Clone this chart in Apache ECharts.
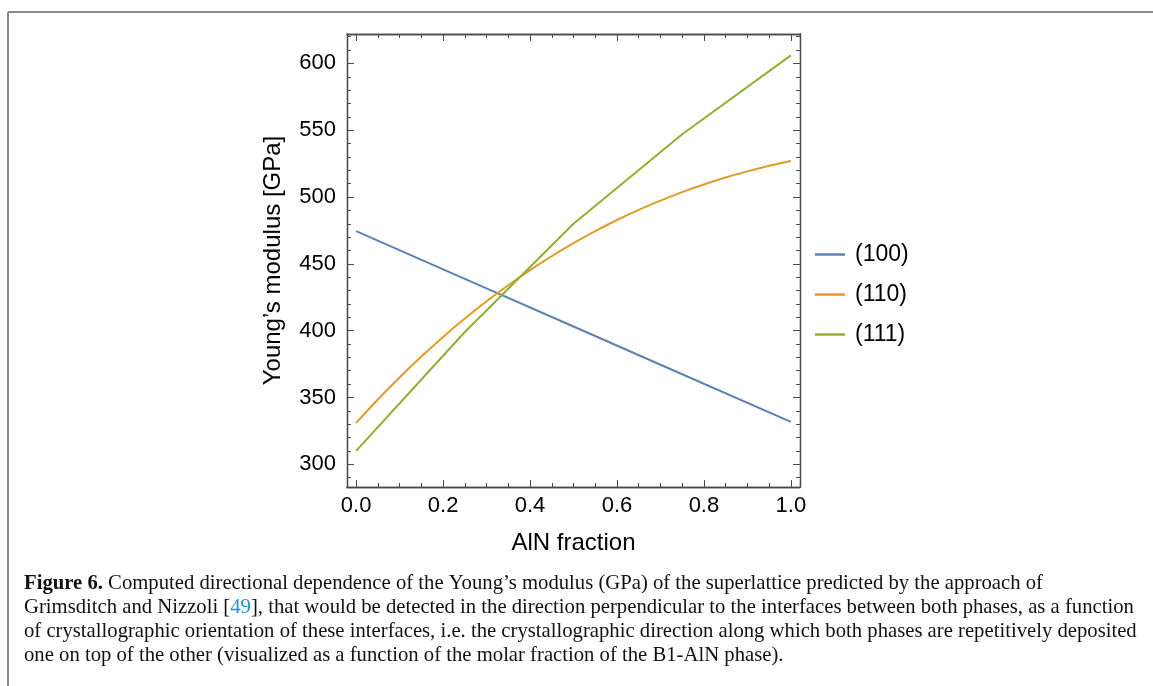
<!DOCTYPE html>
<html>
<head>
<meta charset="utf-8">
<script src="https://cdn.jsdelivr.net/npm/echarts@6/dist/echarts.min.js"></script>
<style>
html,body{margin:0;padding:0;background:#fff;}
#c{width:1153px;height:686px;}
</style>
</head>
<body>
<div id="c"></div>
<script>
// ---- data ----
const seriesNames = ['(100)', '(110)', '(111)'];
const xFrac100 = [0, 0.25, 0.5, 0.75, 1];
const y100 = [474.5, 438.8, 403.1, 367.4, 331.7];
const xFrac110 = [0, 0.05, 0.1, 0.15, 0.2, 0.25, 0.3, 0.35, 0.4, 0.45, 0.5, 0.55, 0.6, 0.65, 0.7, 0.75, 0.8, 0.85, 0.9, 0.95, 1];
const y110 = [331, 348.5, 365, 380.6, 395.3, 409.1, 422.0, 434.0, 445.3, 455.8, 465.5, 474.5, 482.8, 490.4, 497.3, 503.7, 509.4, 514.6, 519.2, 523.4, 527];
const xFrac111 = [0, 0.25, 0.5, 0.75, 1];
const y111 = [310, 399, 480, 547, 606];
const xMajorTicks = [0, 0.2, 0.4, 0.6, 0.8, 1.0];
const xMinorTicks = [0.05, 0.1, 0.15, 0.25, 0.3, 0.35, 0.45, 0.5, 0.55, 0.65, 0.7, 0.75, 0.85, 0.9, 0.95];
const yMajorTicks = [300, 350, 400, 450, 500, 550, 600];
const yMinorTicks = [290, 310, 320, 330, 340, 360, 370, 380, 390, 410, 420, 430, 440, 460, 470, 480, 490, 510, 520, 530, 540, 560, 570, 580, 590, 610, 620];
const colors = ['#5e81b5', '#e19c24', '#8fb032'];
const xTitle = 'AlN fraction';
const yTitle = 'Young\u2019s modulus [GPa]';
const captionLines = [
  '{b|Figure 6.} Computed directional dependence of the Young\u2019s modulus (GPa) of the superlattice predicted by the approach of',
  'Grimsditch and Nizzoli [{c|49}], that would be detected in the direction perpendicular to the interfaces between both phases, as a function',
  'of crystallographic orientation of these interfaces, i.e. the crystallographic direction along which both phases are repetitively deposited',
  'one on top of the other (visualized as a function of the molar fraction of the B1-AlN phase).'
];

const X_MIN = -0.021, X_MAX = 1.021, Y_MIN = 283, Y_MAX = 622;
const frameColor = '#4a4a4a';
const FONT = 'Liberation Sans, Arial, sans-serif';
const CAP_SIZE = 20.7;

function xAxisDef(pos, ticks, len, labels, name) {
  return {
    type: 'value', position: pos, min: X_MIN, max: X_MAX,
    axisLine: {show: true, onZero: false, lineStyle: {color: frameColor, width: 1.3}},
    splitLine: {show: false},
    axisTick: {show: true, inside: true, length: len, customValues: ticks, lineStyle: {color: frameColor, width: 1}},
    axisLabel: labels ? {show: true, customValues: ticks, formatter: v => v.toFixed(1), color: '#000', fontSize: 22, fontFamily: FONT, margin: 8} : {show: false},
    name: name || '', nameLocation: 'middle', nameGap: 44,
    nameTextStyle: {color: '#000', fontSize: 24, fontFamily: FONT, verticalAlign: 'top'}
  };
}
function yAxisDef(pos, ticks, len, labels, name) {
  return {
    type: 'value', position: pos, min: Y_MIN, max: Y_MAX,
    axisLine: {show: true, onZero: false, lineStyle: {color: frameColor, width: 1.3}},
    splitLine: {show: false},
    axisTick: {show: true, inside: true, length: len, customValues: ticks, lineStyle: {color: frameColor, width: 1}},
    axisLabel: labels ? {show: true, customValues: ticks, color: '#000', fontSize: 22, fontFamily: FONT, margin: 11} : {show: false},
    name: name || '', nameLocation: 'middle', nameGap: 62, nameRotate: 90,
    nameTextStyle: {color: '#000', fontSize: 24, fontFamily: FONT}
  };
}

const chart = echarts.init(document.getElementById('c'), null, {renderer: 'canvas'});
chart.setOption({
  animation: false,
  backgroundColor: '#fff',
  grid: {left: 347, right: 353, top: 34, bottom: 199, containLabel: false},
  xAxis: [
    xAxisDef('bottom', xMajorTicks, 7, true, xTitle),
    xAxisDef('bottom', xMinorTicks, 4, false),
    xAxisDef('top', xMajorTicks, 7, false),
    xAxisDef('top', xMinorTicks, 4, false)
  ],
  yAxis: [
    yAxisDef('left', yMajorTicks, 7, true, yTitle),
    yAxisDef('left', yMinorTicks, 4, false),
    yAxisDef('right', yMajorTicks, 7, false),
    yAxisDef('right', yMinorTicks, 4, false)
  ],
  legend: {
    orient: 'vertical', left: 815, top: 243, itemGap: 17, padding: 0,
    itemWidth: 30, itemHeight: 2.5, icon: 'rect',
    textStyle: {color: '#000', fontSize: 23, fontFamily: FONT, padding: [0, 0, 0, 5]},
    data: seriesNames
  },
  series: [
    {name: seriesNames[0], type: 'line', showSymbol: false, data: xFrac100.map((x, i) => [x, y100[i]]), lineStyle: {color: colors[0], width: 2}, itemStyle: {color: colors[0]}},
    {name: seriesNames[1], type: 'line', showSymbol: false, smooth: 0.3, data: xFrac110.map((x, i) => [x, y110[i]]), lineStyle: {color: colors[1], width: 2}, itemStyle: {color: colors[1]}},
    {name: seriesNames[2], type: 'line', showSymbol: false, data: xFrac111.map((x, i) => [x, y111[i]]), lineStyle: {color: colors[2], width: 2}, itemStyle: {color: colors[2]}}
  ],
  graphic: [
    {type: 'line', shape: {x1: 8, y1: 12, x2: 1153, y2: 12}, style: {stroke: '#8a8a8a', lineWidth: 2}},
    {type: 'line', shape: {x1: 8, y1: 12, x2: 8, y2: 686}, style: {stroke: '#8a8a8a', lineWidth: 2}}
  ].concat(captionLines.map((t, i) => ({
    type: 'text', left: 24, top: 573 + i * 24,
    style: {
      text: t, fill: '#111', font: CAP_SIZE + 'px "Liberation Serif", "Times New Roman", serif',
      rich: {
        b: {fontWeight: 'bold', fontSize: CAP_SIZE, fontFamily: 'Liberation Serif', fill: '#111'},
        c: {fontSize: CAP_SIZE, fontFamily: 'Liberation Serif', fill: '#2a8fc9'}
      }
    }
  })))
});
</script>
</body>
</html>
